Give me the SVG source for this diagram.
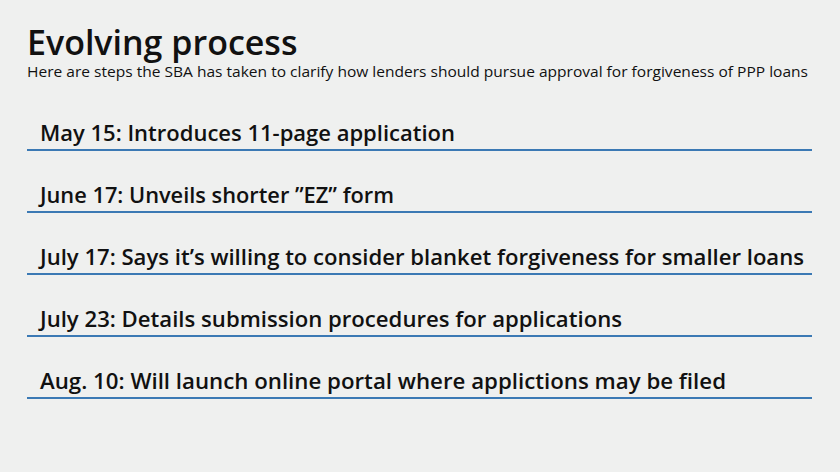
<svg xmlns="http://www.w3.org/2000/svg" width="840" height="472" viewBox="0 0 840 472">
<style>
.t{font-family:"Open Sans","Liberation Sans",sans-serif;fill:#111}
.item{font-size:21.5px;font-weight:600}
.rule{stroke:#3b79b4;stroke-width:2}
</style>
<rect width="840" height="472" fill="#eff0ef"/>
<g id="title"><text class="t" x="27" y="55" font-size="34" font-weight="600">Evolving process</text>
<text class="t" x="27" y="77" font-size="15" textLength="781" lengthAdjust="spacingAndGlyphs">Here are steps the SBA has taken to clarify how lenders should pursue approval for forgiveness of PPP loans</text></g>
<g id="connectors">
<line class="rule" x1="27" y1="150" x2="812" y2="150"/>
<line class="rule" x1="27" y1="212" x2="812" y2="212"/>
<line class="rule" x1="27" y1="274" x2="812" y2="274"/>
<line class="rule" x1="27" y1="336" x2="812" y2="336"/>
<line class="rule" x1="27" y1="398" x2="812" y2="398"/>
</g>
<g id="n1"><text class="t item" x="40" y="141" textLength="415" lengthAdjust="spacingAndGlyphs">May 15: Introduces 11-page application</text></g>
<g id="n2"><text class="t item" x="40" y="203" textLength="354" lengthAdjust="spacingAndGlyphs">June 17: Unveils shorter ”EZ” form</text></g>
<g id="n3"><text class="t item" x="40" y="265" textLength="764" lengthAdjust="spacingAndGlyphs">July 17: Says it’s willing to consider blanket forgiveness for smaller loans</text></g>
<g id="n4"><text class="t item" x="40" y="327" textLength="582" lengthAdjust="spacingAndGlyphs">July 23: Details submission procedures for applications</text></g>
<g id="n5"><text class="t item" x="40" y="389" textLength="686" lengthAdjust="spacingAndGlyphs">Aug. 10: Will launch online portal where applictions may be filed</text></g>
</svg>
